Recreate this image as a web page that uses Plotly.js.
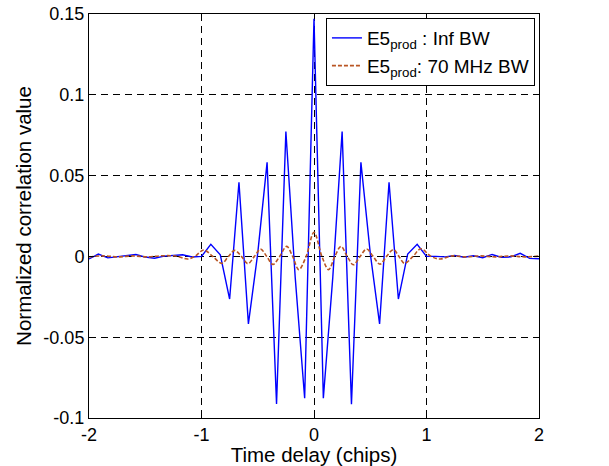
<!DOCTYPE html>
<html>
<head>
<meta charset="utf-8">
<script src="https://cdn.plot.ly/plotly-2.35.2.min.js"></script>
<style>html,body{margin:0;padding:0;background:#fff;}#chart{width:609px;height:466px;}</style>
</head>
<body>
<div id="chart"></div>
<script>
// Infinite-bandwidth correlation, sampled every 1/12 chip
var infX = [-2,-1.917,-1.833,-1.75,-1.667,-1.583,-1.5,-1.417,-1.333,-1.25,-1.167,-1.083,
  -1,-0.917,-0.833,-0.75,-0.667,-0.583,-0.5,-0.417,-0.333,-0.25,-0.167,-0.083,
  0,0.083,0.167,0.25,0.333,0.417,0.5,0.583,0.667,0.75,0.833,0.917,
  1,1.083,1.167,1.25,1.333,1.417,1.5,1.583,1.667,1.75,1.833,1.917,2];
var infY = [-0.0016,0.0014,-0.0009,-0.0002,0.0003,0.0012,-0.0004,-0.0011,0.0002,0.0004,0.0010,-0.0004,
  0.0,0.0075,0.001,-0.0264,0.0459,-0.0418,0.002,0.0582,-0.0913,0.0772,-0.013,-0.0878,
  0.147,-0.0878,-0.013,0.0772,-0.0915,0.0582,0.002,-0.0418,0.0459,-0.0264,0.0015,0.0075,
  0.0,0.0,-0.0003,0.0006,-0.0005,0.0004,-0.0008,0.0012,-0.0006,-0.0003,0.0019,-0.0012,-0.0015];

// 70 MHz bandwidth correlation (smooth curve)
var bwX = [-2,-1.87,-1.74,-1.61,-1.48,-1.35,-1.23,-1.12,-1.05,-0.98,-0.9,-0.82,-0.76,-0.705,-0.645,
  -0.588,-0.53,-0.475,-0.42,-0.365,-0.305,-0.243,-0.19,-0.135,-0.07,0,
  0.07,0.13,0.185,0.24,0.295,0.35,0.41,0.468,0.525,0.587,0.645,0.705,0.755,0.805,0.88,0.95,
  1.04,1.12,1.23,1.35,1.48,1.61,1.74,1.87,2];
var bwY = [-0.0003,0.0003,-0.0003,0.0003,-0.0003,0.0004,0.0002,-0.0016,0.0005,0.004,0.0,-0.0043,0.0,0.0037,0.0,
  -0.0045,0.0,0.0045,0.0,-0.005,0.0,0.0062,0.0,-0.0082,0.0,0.0149,
  0.0,-0.0082,0.0,0.0062,0.0,-0.0052,0.0,0.0046,0.0,-0.0048,0.0,0.0042,0.0,-0.0043,0.0,0.0047,
  0.0,-0.0016,0.0003,-0.0003,0.0003,-0.0003,0.0003,-0.0003,0.0002];

var xTicks = [-2,-1,0,1,2];
var xTickText = ['-2','-1','0','1','2'];
var yTicks = [-0.1,-0.05,0,0.05,0.1,0.15];
var yTickText = ['-0.1','-0.05','0','0.05','0.1','0.15'];

var seriesNames = ['E5<sub>prod</sub> : Inf BW','E5<sub>prod</sub>: 70 MHz BW'];

var traces = [
  {x: infX, y: infY, type: 'scatter', mode: 'lines', name: seriesNames[0],
   line: {color: '#0000ff', width: 1.4}},
  {x: bwX, y: bwY, type: 'scatter', mode: 'lines', name: seriesNames[1],
   line: {color: 'rgb(185,85,35)', width: 1.6, dash: '4px,2px', shape: 'spline', smoothing: 1}}
];

var font = {family: '"Liberation Sans", Arial, sans-serif', color: '#000'};

var layout = {
  width: 609, height: 466,
  margin: {l: 89, r: 70, t: 14, b: 48, pad: 0},
  paper_bgcolor: '#fff', plot_bgcolor: '#fff',
  font: Object.assign({size: 18}, font),
  showlegend: true,
  legend: {x: 0.991, xanchor: 'right', y: 0.99, yanchor: 'top',
    bgcolor: '#fff', bordercolor: '#000', borderwidth: 1,
    font: Object.assign({size: 19}, font), tracegroupgap: 0},
  xaxis: {range: [-2, 2], tickvals: xTicks, ticktext: xTickText,
    showline: true, linecolor: '#000', linewidth: 1, mirror: 'allticks',
    ticks: 'inside', ticklen: 5, tickcolor: '#000',
    showgrid: true, gridcolor: '#000', gridwidth: 1, griddash: '7px,5px',
    zeroline: false, tickfont: Object.assign({size: 18}, font),
    title: {text: 'Time delay (chips)', font: Object.assign({size: 20.5}, font), standoff: 5}},
  yaxis: {range: [-0.1, 0.15], tickvals: yTicks, ticktext: yTickText,
    showline: true, linecolor: '#000', linewidth: 1, mirror: 'allticks',
    ticks: 'inside', ticklen: 5, tickcolor: '#000',
    showgrid: true, gridcolor: '#000', gridwidth: 1, griddash: '7px,5px',
    zeroline: false, tickfont: Object.assign({size: 18}, font),
    title: {text: 'Normalized correlation value', font: Object.assign({size: 20.5}, font), standoff: 6}}
};

Plotly.newPlot('chart', traces, layout, {displayModeBar: false, staticPlot: true});
</script>
</body>
</html>
